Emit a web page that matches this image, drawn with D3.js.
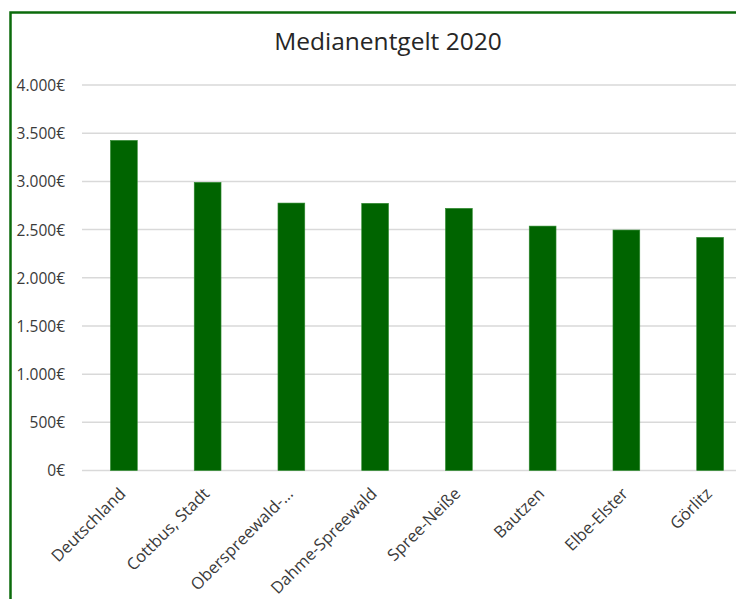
<!DOCTYPE html>
<html>
<head>
<meta charset="utf-8">
<script src="https://cdn.jsdelivr.net/npm/d3@7"></script>
<style>
  html, body { margin: 0; padding: 0; background: #ffffff; }
  svg { display: block; }
</style>
</head>
<body>
<svg id="chart" width="736" height="599"></svg>
<script>
// ---- data ----
const title = "Medianentgelt 2020";
const categories = ["Deutschland", "Cottbus, Stadt", "Oberspreewald-...", "Dahme-Spreewald", "Spree-Neiße", "Bautzen", "Elbe-Elster", "Görlitz"];
const values = [3425, 2990, 2775, 2772, 2720, 2536, 2495, 2419];
const yTicks = [0, 500, 1000, 1500, 2000, 2500, 3000, 3500, 4000];

// ---- layout ----
const W = 736, H = 599;
const plot = { left: 82, right: 752, top: 85, bottom: 470.5 };
const svg = d3.select("#chart");
const font = "'Open Sans', 'Noto Sans', sans-serif";

svg.append("rect").attr("width", W).attr("height", H).attr("fill", "#ffffff");

const x = d3.scaleBand().domain(categories).range([plot.left, plot.right]).paddingInner(0.68).paddingOuter(0.34);
const y = d3.scaleLinear().domain([0, 4000]).range([plot.bottom, plot.top]);

const fmt = v => d3.format(",")(v).replace(/,/g, ".") + "€";

// gridlines
svg.append("g").selectAll("line").data(yTicks).join("line")
  .attr("x1", plot.left).attr("x2", plot.right)
  .attr("y1", d => y(d)).attr("y2", d => y(d))
  .attr("stroke", "#d9d9d9").attr("stroke-width", 1.5);

// y axis labels via d3 axis
const yAxis = d3.axisLeft(y).tickValues(yTicks).tickFormat(fmt).tickSize(0).tickPadding(0);
const ya = svg.append("g").attr("transform", `translate(65,0)`).call(yAxis);
ya.select(".domain").remove();
ya.selectAll("text").attr("font-family", font).attr("font-size", 15.5).attr("fill", "#3a3a3a").attr("dy", "0.35em");

// bars
svg.append("g").selectAll("rect").data(values).join("rect")
  .attr("x", (d, i) => x(categories[i]))
  .attr("width", x.bandwidth())
  .attr("y", d => y(d))
  .attr("height", d => y(0) - y(d))
  .attr("fill", "#006400")
  .attr("stroke", "#2f8a2f").attr("stroke-width", 0.6);

// x labels
svg.append("g").selectAll("text").data(categories).join("text")
  .attr("transform", d => `translate(${x(d) + x.bandwidth() / 2 - 6},486) rotate(-45)`)
  .attr("text-anchor", "end")
  .attr("dy", "0.75em")
  .attr("font-family", font).attr("font-size", 16.5).attr("fill", "#3a3a3a")
  .text(d => d);

// title
svg.append("text")
  .attr("x", 388).attr("y", 50)
  .attr("text-anchor", "middle")
  .attr("font-family", font).attr("font-size", 24.5).attr("fill", "#262626")
  .text(title);

// green frame
svg.append("path")
  .attr("d", `M10.5,${H} L10.5,12.5 L${W},12.5`)
  .attr("fill", "none").attr("stroke", "#0b6b0b").attr("stroke-width", 2.5);
</script>
</body>
</html>
